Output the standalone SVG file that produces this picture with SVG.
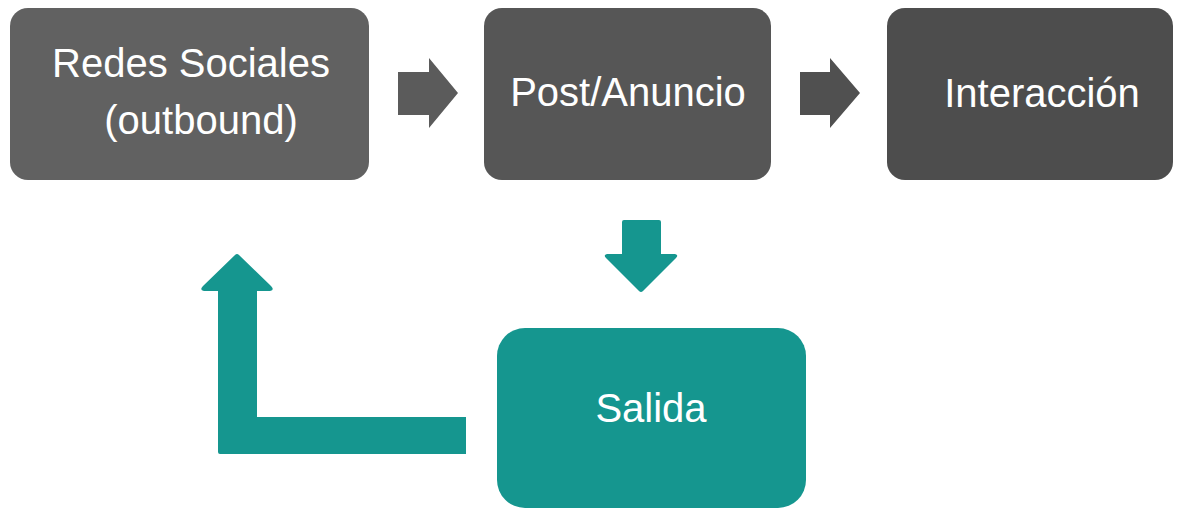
<svg xmlns="http://www.w3.org/2000/svg" width="1179" height="509" viewBox="0 0 1179 509">
  <style>
    .lbl { font-family: "Liberation Sans", Arial, sans-serif; font-size: 40px; fill: #ffffff; text-anchor: middle; }
    .teal { fill: #15968f; }
  </style>
  <rect width="1179" height="509" fill="#ffffff"/>
  <g id="connectors">
    <polygon points="398,72 429,72 429,58 458,93 429,128 429,115 398,115" fill="#5b5b5b"/>
    <polygon points="800,72 830,72 830,58 860,93 830,128 830,115 800,115" fill="#505050"/>
    <path class="teal" d="M624,220 H659 Q661,220 661,222 V254 H675 Q679,255 676,258 L643,291 Q641,293 639,291 L606,258 Q603,255 607,254 H622 V222 Q622,220 624,220 Z"/>
    <path class="teal" d="M466,417 V454 H220 Q218,454 218,452 V291 H204 Q199,290 203,286 L235,255 Q237,253 239,255 L271,286 Q275,290 270,291 H257 V417 Z"/>
  </g>
  <g id="node-redes">
    <rect x="10" y="8" width="359" height="172" rx="18" fill="#616161"/>
    <text class="lbl" x="191" y="77">Redes Sociales</text>
    <text class="lbl" x="201" y="134">(outbound)</text>
  </g>
  <g id="node-post">
    <rect x="484" y="8" width="287" height="172" rx="18" fill="#565656"/>
    <text class="lbl" x="628" y="106">Post/Anuncio</text>
  </g>
  <g id="node-interaccion">
    <rect x="887" y="8" width="286" height="172" rx="18" fill="#4d4d4d"/>
    <text class="lbl" x="1042" y="107">Interacción</text>
  </g>
  <g id="node-salida">
    <rect class="teal" x="497" y="328" width="309" height="180" rx="28"/>
    <text class="lbl" x="651" y="422">Salida</text>
  </g>
</svg>
